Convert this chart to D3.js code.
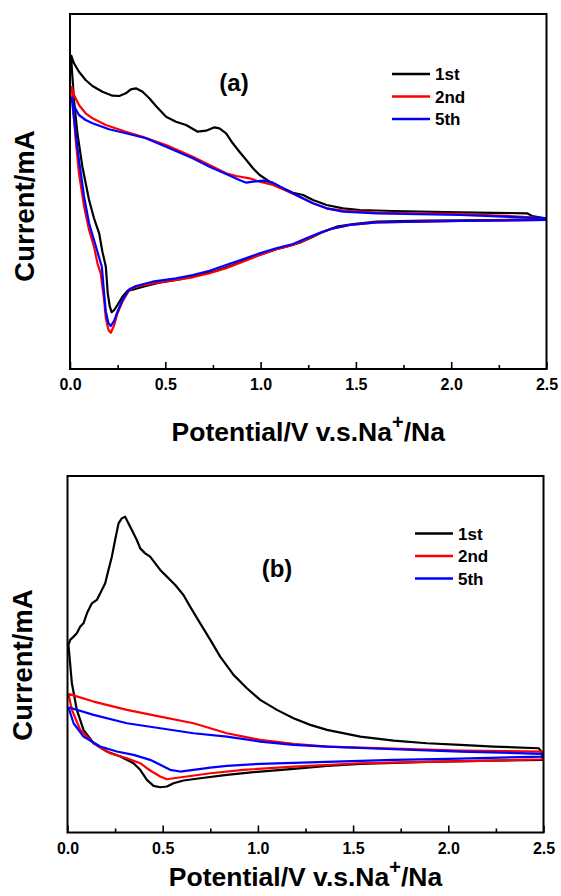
<!DOCTYPE html>
<html lang="en">
<head>
<meta charset="utf-8">
<title>CV curves</title>
<script src="https://d3js.org/d3.v7.min.js"></script>
<style>
  body { margin: 0; background: #fff; }
  text { font-family: "Liberation Sans", Arial, sans-serif; font-weight: bold; fill: #000; }
</style>
</head>
<body>
<script>

// panel (a) : [potential (V), current (mA)], in sweep order (anodic then cathodic)
var a1st = [[0.005,1.60],[0.021,1.517],[0.047,1.433],[0.082,1.35],[0.118,1.29],[0.170,1.233],[0.223,1.193],[0.258,1.19],
  [0.293,1.217],[0.319,1.257],[0.346,1.267],[0.381,1.233],[0.416,1.167],[0.451,1.09],[0.504,0.983],[0.556,0.933],
  [0.609,0.90],[0.670,0.833],[0.714,0.843],[0.758,0.877],[0.784,0.867],[0.819,0.817],[0.854,0.717],[0.889,0.633],
  [0.925,0.55],[0.960,0.467],[0.995,0.40],[1.047,0.333],[1.100,0.283],[1.170,0.223],[1.223,0.20],[1.275,0.15],
  [1.346,0.10],[1.433,0.067],[1.521,0.05],[1.696,0.04],[2.047,0.027],[2.398,0.017],[2.425,-0.01],[2.495,-0.033],
  [2.495,-0.043],[2.223,-0.05],[1.872,-0.057],[1.609,-0.067],[1.486,-0.09],[1.398,-0.117],[1.328,-0.167],[1.275,-0.217],
  [1.205,-0.277],[1.135,-0.317],[1.082,-0.343],[1.030,-0.377],[0.942,-0.433],[0.854,-0.50],[0.767,-0.557],[0.679,-0.60],
  [0.574,-0.643],[0.468,-0.677],[0.398,-0.71],[0.337,-0.743],[0.302,-0.757],[0.275,-0.817],[0.249,-0.90],[0.232,-0.95],
  [0.219,-0.973],[0.209,-0.917],[0.198,-0.783],[0.188,-0.517],[0.170,-0.367],[0.153,-0.183],[0.126,-0.033],[0.100,0.15],
  [0.065,0.483],[0.039,0.817],[0.021,1.15],[0.009,1.483],[0.005,1.60]];

var a2nd = [[0.009,1.29],[0.021,1.20],[0.047,1.10],[0.082,1.017],[0.118,0.967],[0.188,0.90],[0.293,0.833],[0.381,0.783],
  [0.504,0.70],[0.644,0.583],[0.732,0.50],[0.819,0.417],[0.872,0.39],[0.942,0.367],[0.995,0.333],[1.065,0.30],
  [1.135,0.243],[1.205,0.183],[1.275,0.117],[1.346,0.067],[1.433,0.043],[1.609,0.023],[2.047,0.01],[2.311,-0.01],[2.495,-0.033],
  [2.495,-0.05],[2.047,-0.06],[1.609,-0.073],[1.468,-0.10],[1.381,-0.133],[1.311,-0.183],[1.240,-0.243],[1.170,-0.30],
  [1.082,-0.343],[0.995,-0.40],[0.907,-0.467],[0.819,-0.533],[0.732,-0.583],[0.644,-0.623],[0.556,-0.65],[0.433,-0.683],
  [0.346,-0.717],[0.311,-0.75],[0.275,-0.867],[0.249,-0.983],[0.232,-1.10],[0.214,-1.177],[0.202,-1.15],[0.188,-1.033],
  [0.179,-0.85],[0.161,-0.583],[0.144,-0.483],[0.126,-0.317],[0.100,-0.15],[0.074,0.083],[0.047,0.417],[0.030,0.75],
  [0.016,1.083],[0.009,1.29]];

var a5th = [[0.009,1.183],[0.021,1.09],[0.047,1.00],[0.082,0.95],[0.118,0.917],[0.205,0.857],[0.293,0.817],[0.398,0.767],
  [0.504,0.683],[0.644,0.567],[0.732,0.483],[0.819,0.41],[0.889,0.35],[0.925,0.323],[0.960,0.333],[1.012,0.343],
  [1.065,0.323],[1.135,0.25],[1.205,0.183],[1.275,0.117],[1.346,0.067],[1.433,0.033],[1.609,0.017],[2.047,0.0],[2.495,-0.033],
  [2.495,-0.05],[2.047,-0.06],[1.609,-0.073],[1.468,-0.10],[1.381,-0.133],[1.311,-0.177],[1.240,-0.233],[1.170,-0.29],
  [1.082,-0.333],[0.995,-0.383],[0.907,-0.443],[0.819,-0.50],[0.732,-0.557],[0.644,-0.60],[0.556,-0.633],[0.433,-0.667],
  [0.346,-0.71],[0.311,-0.743],[0.275,-0.85],[0.249,-0.967],[0.232,-1.057],[0.214,-1.11],[0.202,-1.083],[0.188,-0.967],
  [0.179,-0.783],[0.167,-0.517],[0.149,-0.40],[0.126,-0.25],[0.100,-0.083],[0.074,0.183],[0.047,0.55],[0.030,0.817],
  [0.016,1.05],[0.009,1.183]];

// panel (b)
var b1st = [[0.005,1.117],[0.014,1.167],[0.032,1.20],[0.049,1.233],[0.067,1.30],[0.084,1.333],[0.102,1.433],[0.128,1.533],
  [0.154,1.567],[0.172,1.633],[0.198,1.733],[0.215,1.867],[0.233,2.00],[0.250,2.167],[0.268,2.333],[0.285,2.383],
  [0.303,2.40],[0.320,2.333],[0.338,2.267],[0.364,2.167],[0.382,2.083],[0.408,2.033],[0.434,2.00],[0.461,1.933],
  [0.487,1.867],[0.522,1.80],[0.566,1.717],[0.609,1.617],[0.644,1.50],[0.697,1.333],[0.750,1.167],[0.802,1.00],
  [0.872,0.817],[0.942,0.683],[1.012,0.567],[1.100,0.467],[1.187,0.383],[1.275,0.317],[1.363,0.267],[1.538,0.20],
  [1.713,0.16],[1.888,0.133],[2.063,0.117],[2.238,0.10],[2.475,0.083],[2.492,0.04],
  [2.495,-0.033],[2.238,-0.04],[1.888,-0.053],[1.538,-0.073],[1.363,-0.093],[1.187,-0.123],[1.012,-0.15],[0.837,-0.183],
  [0.697,-0.217],[0.609,-0.24],[0.557,-0.267],[0.522,-0.30],[0.487,-0.307],[0.452,-0.293],[0.417,-0.233],[0.382,-0.133],
  [0.347,-0.067],[0.277,0.0],[0.207,0.05],[0.137,0.133],[0.084,0.267],[0.049,0.467],[0.023,0.733],[0.005,1.117]];

var b2nd = [[0.005,0.627],[0.137,0.55],[0.312,0.467],[0.487,0.40],[0.662,0.333],[0.750,0.283],[0.837,0.233],[0.925,0.20],
  [1.012,0.167],[1.187,0.127],[1.363,0.10],[1.713,0.08],[2.063,0.06],[2.492,0.05],
  [2.492,-0.027],[2.238,-0.04],[1.888,-0.053],[1.538,-0.067],[1.187,-0.10],[0.925,-0.133],[0.750,-0.167],[0.627,-0.20],
  [0.557,-0.217],[0.522,-0.227],[0.487,-0.20],[0.443,-0.15],[0.417,-0.117],[0.382,-0.067],[0.312,-0.017],[0.224,0.033],
  [0.137,0.133],[0.067,0.267],[0.023,0.467],[0.005,0.627]];

var b5th = [[0.005,0.493],[0.137,0.417],[0.312,0.333],[0.487,0.283],[0.662,0.233],[0.837,0.20],[1.012,0.15],[1.187,0.117],
  [1.363,0.10],[1.713,0.073],[2.063,0.05],[2.492,0.027],
  [2.492,0.0],[2.063,-0.02],[1.713,-0.033],[1.363,-0.053],[1.012,-0.073],[0.837,-0.093],[0.750,-0.11],[0.662,-0.133],
  [0.592,-0.15],[0.539,-0.133],[0.487,-0.083],[0.434,-0.033],[0.347,0.017],[0.259,0.05],[0.172,0.10],[0.084,0.20],
  [0.032,0.333],[0.005,0.493]];

var xTicks = [0, 0.5, 1.0, 1.5, 2.0, 2.5];
var xMinorTicks = [0.25, 0.75, 1.25, 1.75, 2.25];
var cycleNames = ["1st", "2nd", "5th"];
var cycleColors = ["#000000", "#ff0000", "#0000ff"];

var w = 561;
var h = 896;

var svg = d3.select("body")
  .append("svg")
    .attr("width", w)
    .attr("height", h);

svg.append("rect")
    .attr("width", w)
    .attr("height", h)
    .attr("fill", "#fff");

function drawPanel(p) {
  var xScale = d3.scaleLinear()
      .domain([0, 2.5])
      .range([p.left, p.right]);

  var yScale = d3.scaleLinear()
      .domain(p.yDomain)
      .range([p.bottom, p.top]);

  var g = svg.append("g");

  // minor ticks, inward
  g.append("g")
      .attr("transform", `translate(0, ${p.bottom})`)
      .call(d3.axisBottom(xScale).tickValues(xMinorTicks).tickSizeInner(-4).tickSizeOuter(0).tickFormat(""))
      .call(a => a.select(".domain").remove())
      .call(a => a.selectAll("line").attr("stroke-width", 1.6));

  // major ticks + labels
  g.append("g")
      .attr("transform", `translate(0, ${p.bottom})`)
      .call(d3.axisBottom(xScale).tickValues(xTicks).tickSizeInner(-7).tickSizeOuter(0)
        .tickPadding(10).tickFormat(d3.format(".1f")))
      .call(a => a.select(".domain").remove())
      .call(a => a.selectAll("line").attr("stroke-width", 1.6))
      .call(a => a.selectAll("text")
        .attr("font-size", 16)
        .attr("font-family", "Liberation Sans, Arial, sans-serif")
        .attr("font-weight", "bold")
        .attr("fill", "#000"));

  var line = d3.line()
      .x(d => xScale(d[0]))
      .y(d => yScale(d[1]));

  g.selectAll("path.cv")
      .data(p.series)
    .enter().append("path")
      .attr("class", "cv")
      .attr("d", d => line(d))
      .attr("fill", "none")
      .attr("stroke", (d, i) => cycleColors[i])
      .attr("stroke-width", 2.2)
      .attr("stroke-linejoin", "round");

  // frame
  g.append("rect")
      .attr("x", p.left)
      .attr("y", p.top)
      .attr("width", p.right - p.left)
      .attr("height", p.bottom - p.top)
      .attr("fill", "none")
      .attr("stroke", "#000")
      .attr("stroke-width", 2);

  // legend
  var leg = g.append("g")
      .attr("transform", `translate(${p.legX}, ${p.legY})`);
  cycleNames.forEach(function (name, i) {
    leg.append("line")
        .attr("x1", 0).attr("x2", 38)
        .attr("y1", i * 22.5).attr("y2", i * 22.5)
        .attr("stroke", cycleColors[i])
        .attr("stroke-width", 2.5);
    leg.append("text")
        .attr("x", 43)
        .attr("y", i * 22.5 + 6)
        .attr("font-size", 17)
        .text(name);
  });

  g.append("text")
      .attr("x", p.tagX)
      .attr("y", p.tagY)
      .attr("text-anchor", "middle")
      .attr("font-size", 24)
      .text(p.tag);

  // axis titles
  var xt = g.append("text")
      .attr("x", (p.left + p.right) / 2)
      .attr("y", p.xTitleY)
      .attr("text-anchor", "middle")
      .attr("font-size", 26.5);
  xt.append("tspan").text("Potential/V v.s.Na");
  xt.append("tspan").attr("font-size", 20).attr("dy", -12).text("+");
  xt.append("tspan").attr("dy", 12).text("/Na");

  g.append("text")
      .attr("transform", `translate(${p.yTitleX}, ${p.yTitleY}) rotate(-90)`)
      .attr("text-anchor", "middle")
      .attr("font-size", 27.5)
      .text("Current/mA");
}

drawPanel({
  left: 70, right: 546.5, top: 14, bottom: 369,
  yDomain: [-1.54, 2.01],
  series: [a1st, a2nd, a5th],
  legX: 392, legY: 74,
  tag: "(a)", tagX: 234, tagY: 91,
  xTitleY: 440.5,
  yTitleX: 34, yTitleY: 206
});

drawPanel({
  left: 67.5, right: 543.5, top: 476, bottom: 832.5,
  yDomain: [-0.76, 2.807],
  series: [b1st, b2nd, b5th],
  legX: 415, legY: 533.5,
  tag: "(b)", tagX: 277, tagY: 577,
  xTitleY: 886,
  yTitleX: 32, yTitleY: 665
});

</script>
</body>
</html>
